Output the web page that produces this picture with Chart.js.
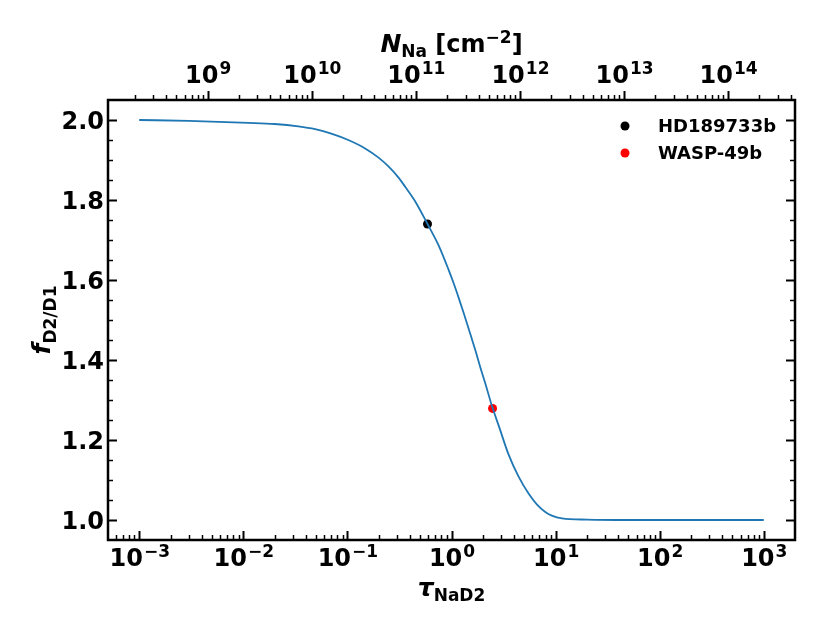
<!DOCTYPE html>
<html>
<head>
<meta charset="utf-8">
<script src="https://cdn.jsdelivr.net/npm/chart.js@4.4.1/dist/chart.umd.min.js"></script>
<style>
    html, body { margin: 0; padding: 0; background: #fff; }
    #wrap { width: 830px; height: 631px; }
</style>
</head>
<body>
<div id="wrap"><canvas id="ratioChart"></canvas></div>
<script>
// values
const tauValues = [0.001, 0.003, 0.0112, 0.02, 0.0338, 0.049, 0.070, 0.102, 0.148, 0.199, 0.248,
    0.31, 0.359, 0.447, 0.588, 0.75, 0.936, 1.045, 1.17, 1.30, 1.567, 1.71, 1.89, 2.11, 2.44,
    2.90, 3.53, 4.4, 5.50, 6.6, 7.96, 9.2, 11.5, 20, 50, 200, 1000];
const ratioValues = [2.000, 1.998, 1.993, 1.990, 1.984, 1.977, 1.966, 1.950, 1.929, 1.906, 1.884,
    1.856, 1.833, 1.797, 1.740, 1.687, 1.626, 1.593, 1.556, 1.520, 1.453, 1.421, 1.382, 1.342, 1.286,
    1.229, 1.164, 1.109, 1.066, 1.039, 1.020, 1.011, 1.004, 1.001, 1.000, 1.000, 1.000];

const planetNames = ['HD189733b', 'WASP-49b'];
const planetTau = [0.588, 2.48];
const planetRatio = [1.740, 1.279];
const planetColors = ['#000000', '#ff0000'];

const tauTickExponents = [-3, -2, -1, 0, 1, 2, 3];
const columnTickExponents = [9, 10, 11, 12, 13, 14];
const ratioTicks = [1.0, 1.2, 1.4, 1.6, 1.8, 2.0];
const columnPerTau = 2.2e11;   // N_Na at tau = 1

const FONT = '"DejaVu Sans", sans-serif';
const tauMin = Math.pow(10, -3.3);
const tauMax = Math.pow(10, 3.3);

function logMinorValues(min, max) {
    const out = [];
    for (let k = Math.floor(Math.log10(min)); k <= Math.ceil(Math.log10(max)); k++) {
        for (let m = 1; m <= 9; m++) {
            const v = m * Math.pow(10, k);
            if (v >= min && v <= max) out.push({ value: v, major: m === 1 });
        }
    }
    return out;
}

// draws "10" with a raised exponent, centred on x
function drawPower(ctx, x, baseline, exponent) {
    const base = '10';
    const sup = String(exponent).replace('-', '\u2212');
    ctx.font = 'bold 24px ' + FONT;
    const wBase = ctx.measureText(base).width;
    ctx.font = 'bold 17px ' + FONT;
    const wSup = ctx.measureText(sup).width;
    const left = x - (wBase + wSup) / 2;
    ctx.textAlign = 'left';
    ctx.textBaseline = 'alphabetic';
    ctx.font = 'bold 24px ' + FONT;
    ctx.fillText(base, left, baseline);
    ctx.font = 'bold 17px ' + FONT;
    ctx.fillText(sup, left + wBase + 1, baseline - 9);
}

// pieces: [text, font, dy]
function drawPieces(ctx, pieces, cx, baseline) {
    let total = 0;
    pieces.forEach(p => { ctx.font = p[1]; total += ctx.measureText(p[0]).width; });
    let x = cx - total / 2;
    ctx.textAlign = 'left';
    ctx.textBaseline = 'alphabetic';
    pieces.forEach(p => {
        ctx.font = p[1];
        ctx.fillText(p[0], x, baseline + p[2]);
        x += ctx.measureText(p[0]).width;
    });
}

const axesDecor = {
    id: 'axesDecor',
    afterDatasetsDraw(chart) {
        const { ctx, chartArea: a, scales } = chart;
        const sx = scales.x, sy = scales.y, sx2 = scales.x2;
        ctx.save();
        ctx.strokeStyle = '#000';
        ctx.fillStyle = '#000';

        // frame
        ctx.lineWidth = 2.5;
        ctx.strokeRect(a.left, a.top, a.right - a.left, a.bottom - a.top);

        // bottom ticks (inward)
        logMinorValues(tauMin, tauMax).forEach(t => {
            const px = Math.round(sx.getPixelForValue(t.value)) + 0.5;
            ctx.lineWidth = t.major ? 2 : 1.5;
            ctx.beginPath();
            ctx.moveTo(px, a.bottom);
            ctx.lineTo(px, a.bottom - (t.major ? 9 : 5));
            ctx.stroke();
        });
        // top ticks (outward)
        logMinorValues(sx2.min, sx2.max).forEach(t => {
            const px = Math.round(sx2.getPixelForValue(t.value)) + 0.5;
            ctx.lineWidth = t.major ? 2 : 1.5;
            ctx.beginPath();
            ctx.moveTo(px, a.top);
            ctx.lineTo(px, a.top - (t.major ? 9 : 5));
            ctx.stroke();
        });
        // left and right ticks (inward)
        for (let i = 0; i <= 20; i++) {
            const v = 1.0 + i * 0.05;
            const major = i % 4 === 0;
            const py = Math.round(sy.getPixelForValue(v)) + 0.5;
            const len = major ? 9 : 5;
            ctx.lineWidth = major ? 2 : 1.5;
            ctx.beginPath();
            ctx.moveTo(a.left, py); ctx.lineTo(a.left + len, py);
            ctx.moveTo(a.right, py); ctx.lineTo(a.right - len, py);
            ctx.stroke();
        }

        // tick labels
        ctx.font = 'bold 24px ' + FONT;
        ctx.textAlign = 'right';
        ctx.textBaseline = 'alphabetic';
        ratioTicks.forEach(v => {
            ctx.fillText(v.toFixed(1), a.left - 4, sy.getPixelForValue(v) + 9);
        });
        tauTickExponents.forEach(e => {
            drawPower(ctx, sx.getPixelForValue(Math.pow(10, e)), a.bottom + 26, e);
        });
        columnTickExponents.forEach(e => {
            drawPower(ctx, sx2.getPixelForValue(Math.pow(10, e)), a.top - 17, e);
        });

        // axis titles
        const big = 'bold 24px ' + FONT;
        const bigIt = 'italic bold 25px ' + FONT;
        const small = 'bold 17px ' + FONT;
        drawPieces(ctx, [['\u03c4', bigIt, 0], ['NaD2', small, 5]], (a.left + a.right) / 2, a.bottom + 56);
        drawPieces(ctx, [['N', bigIt, 0], ['Na', small, 5], [' [cm', big, 0], ['\u22122', small, -9], [']', big, 0]],
            (a.left + a.right) / 2, a.top - 48);
        ctx.save();
        ctx.translate(50, (a.top + a.bottom) / 2);
        ctx.rotate(-Math.PI / 2);
        drawPieces(ctx, [['f', bigIt, 0], ['D2/D1', small, 6]], 0, 0);
        ctx.restore();

        // legend
        planetNames.forEach((name, i) => {
            const ly = a.top + 26 + i * 27;
            ctx.fillStyle = planetColors[i];
            ctx.beginPath();
            ctx.arc(625, ly, 4.5, 0, Math.PI * 2);
            ctx.fill();
            ctx.fillStyle = '#000';
            ctx.font = 'bold 18px ' + FONT;
            ctx.textAlign = 'left';
            ctx.fillText(name, 658, ly + 6);
        });
        ctx.restore();
    }
};

const curveData = tauValues.map((t, i) => ({ x: t, y: ratioValues[i] }));
const planetSets = planetNames.map((name, i) => ({
    type: 'scatter',
    label: name,
    data: [{ x: planetTau[i], y: planetRatio[i] }],
    backgroundColor: planetColors[i],
    borderWidth: 0,
    pointRadius: 4.5
}));

new Chart(document.getElementById('ratioChart'), {
    type: 'scatter',
    data: {
        datasets: [{
            type: 'line',
            label: 'f',
            data: curveData,
            borderColor: '#1f77b4',
            borderWidth: 1.8,
            pointRadius: 0,
            fill: false,
            cubicInterpolationMode: 'monotone'
        }, ...planetSets]
    },
    options: {
        responsive: true,
        maintainAspectRatio: false,
        animation: false,
        layout: { padding: { left: 108, right: 35, top: 100, bottom: 91 } },
        plugins: { legend: { display: false }, tooltip: { enabled: false } },
        scales: {
            x: { type: 'logarithmic', min: tauMin, max: tauMax, display: false },
            x2: { type: 'logarithmic', position: 'top', min: tauMin * columnPerTau, max: tauMax * columnPerTau, display: false },
            y: { type: 'linear', min: 0.95, max: 2.05, display: false }
        }
    },
    plugins: [axesDecor]
});
</script>
</body>
</html>
